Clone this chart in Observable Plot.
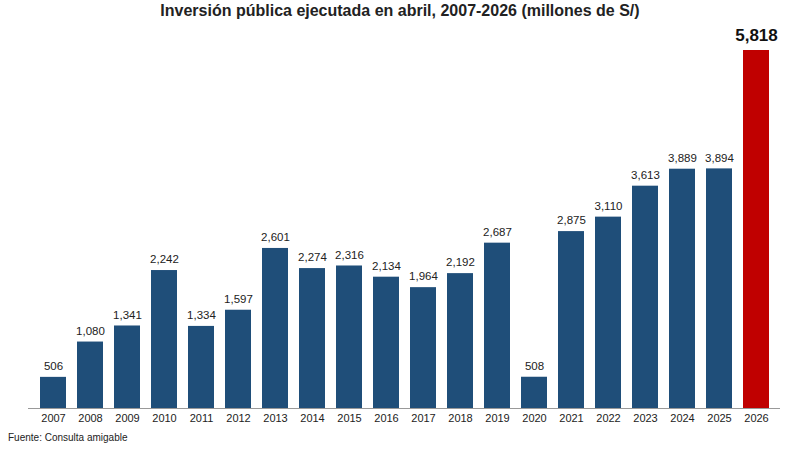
<!DOCTYPE html>
<html><head><meta charset="utf-8">
<script src="https://cdn.jsdelivr.net/npm/d3@7"></script>
<script src="https://cdn.jsdelivr.net/npm/@observablehq/plot@0.6"></script>
<style>
body{margin:0;background:#fff;font-family:Arial,"Liberation Sans",sans-serif;}
#t{height:22px;line-height:22px;text-align:center;font-weight:bold;font-size:16px;color:#222;}
#c{font-size:10px;color:#222;padding-left:8px;margin-top:0px;}
</style></head><body>
<div id="t">Inversión pública ejecutada en abril, 2007-2026 (millones de S/)</div>
<div id="p"></div>
<div id="c">Fuente: Consulta amigable</div>
<script>
const years = ["2007","2008","2009","2010","2011","2012","2013","2014","2015","2016","2017","2018","2019","2020","2021","2022","2023","2024","2025","2026"];
const values = [506,1080,1341,2242,1334,1597,2601,2274,2316,2134,1964,2192,2687,508,2875,3110,3613,3889,3894,5818];
const data = years.map((y,i)=>({year:y,value:values[i],last:y==="2026"}));
const fmt = d3.format(",");
const chart = Plot.plot({
  width:800,height:410,marginLeft:28,marginRight:20,marginTop:28,marginBottom:24,
  style:{fontFamily:"Arial, Liberation Sans, sans-serif",fontSize:"11px",color:"#222"},
  x:{domain:years,padding:0.3,label:null,tickSize:0,tickPadding:6},
  y:{domain:[0,5818],axis:null},
  marks:[
    Plot.barY(data,{x:"year",y:"value",fill:d=>d.last?"#C00000":"#1F4E79"}),
    Plot.ruleY([0],{stroke:"#999"}),
    Plot.text(data.filter(d=>!d.last),{x:"year",y:"value",text:d=>fmt(d.value),dy:-11,fontSize:11.5,fill:"#222"}),
    Plot.text(data.filter(d=>d.last),{x:"year",y:"value",text:d=>fmt(d.value),dy:-15,fontSize:17,fontWeight:"bold",fill:"#111"})
  ]
});
document.getElementById("p").append(chart);
</script></body></html>
